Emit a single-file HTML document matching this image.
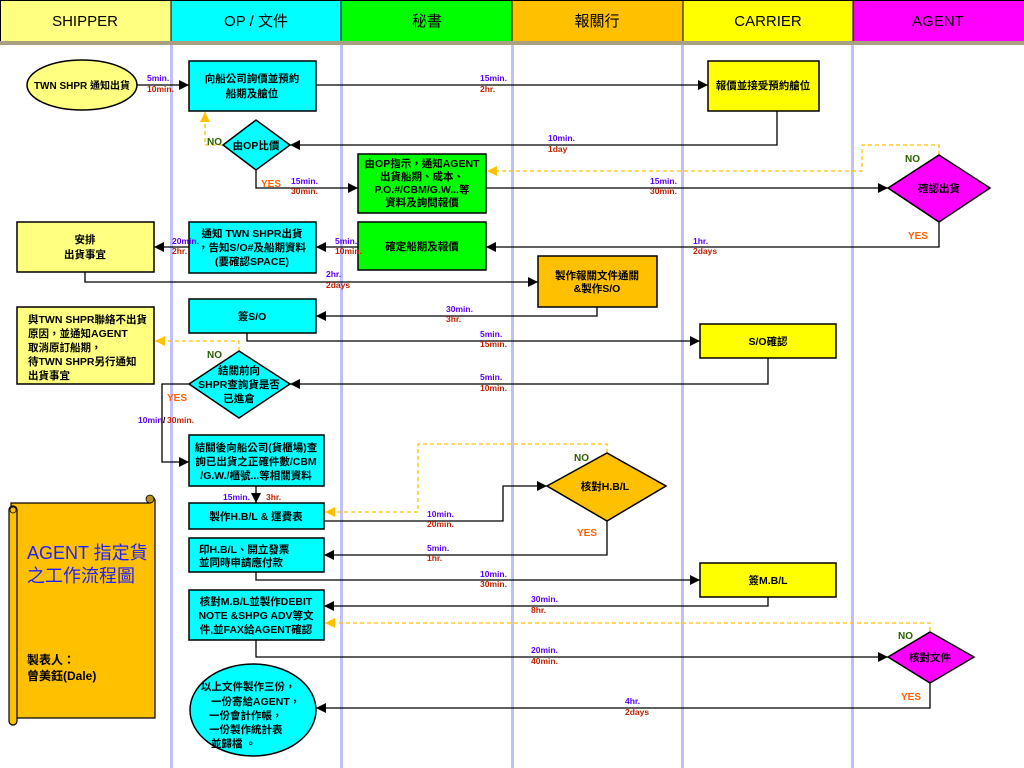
<!DOCTYPE html>
<html><head><meta charset="utf-8"><style>
html,body{margin:0;padding:0;background:#fff;}
svg{display:block;}
text{font-family:"Liberation Sans","Noto Sans CJK TC",sans-serif;}
.n{font-size:10.5px;font-weight:bold;fill:#000;text-anchor:middle;}
.nl{font-size:10.5px;font-weight:bold;fill:#000;}
.b{font-size:8.5px;font-weight:bold;fill:#5a00ff;}
.r{font-size:8.5px;font-weight:bold;fill:#c02000;}
.h{font-size:15px;fill:#000;text-anchor:middle;}
.no{font-size:10px;font-weight:bold;fill:#2a6000;}
.yes{font-size:10px;font-weight:bold;fill:#ff6000;}
.l{stroke:#000;stroke-width:1.3;fill:none;}
.d{stroke:#ffc000;stroke-width:1.3;fill:none;stroke-dasharray:4,3;}
.bx{stroke:#000;stroke-width:1.5;}
</style></head><body>
<svg width="1024" height="768" viewBox="0 0 1024 768" xmlns="http://www.w3.org/2000/svg">
<defs>
<marker id="a" markerWidth="10" markerHeight="10" refX="10" refY="5" orient="auto" markerUnits="userSpaceOnUse"><path d="M0,0 L10,5 L0,10 z" fill="#000"/></marker>
<marker id="o" markerWidth="10" markerHeight="10" refX="10" refY="5" orient="auto" markerUnits="userSpaceOnUse"><path d="M0,0 L10,5 L0,10 z" fill="#ffc000"/></marker>
</defs>
<rect x="0" y="0" width="171" height="41" fill="#ffff80"/>
<rect x="171" y="0" width="170" height="41" fill="#00ffff"/>
<rect x="341" y="0" width="171" height="41" fill="#00ff00"/>
<rect x="512" y="0" width="171" height="41" fill="#ffc000"/>
<rect x="683" y="0" width="170" height="41" fill="#ffff00"/>
<rect x="853" y="0" width="171" height="41" fill="#ff00ff"/>
<g stroke="#000" stroke-width="1"><line x1="171" y1="0" x2="171" y2="41"/><line x1="341" y1="0" x2="341" y2="41"/><line x1="512" y1="0" x2="512" y2="41"/><line x1="683" y1="0" x2="683" y2="41"/><line x1="853" y1="0" x2="853" y2="41"/><line x1="0.5" y1="0" x2="0.5" y2="41"/><line x1="0" y1="0.5" x2="1024" y2="0.5"/></g>
<rect x="0" y="41" width="1024" height="4" fill="#a8a080"/>
<text class="h" x="85" y="26">SHIPPER</text>
<text class="h" x="256" y="26">OP / 文件</text>
<text class="h" x="427" y="26">秘書</text>
<text class="h" x="597" y="26">報關行</text>
<text class="h" x="768" y="26">CARRIER</text>
<text class="h" x="938" y="26">AGENT</text>
<g fill="#c0c0ff"><rect x="170" y="45" width="3" height="723"/><rect x="340" y="45" width="3" height="723"/><rect x="511" y="45" width="3" height="723"/><rect x="681" y="45" width="3" height="723"/><rect x="851" y="45" width="3" height="723"/></g>

<path class="l" d="M137,85 H189" marker-end="url(#a)"/>
<path class="l" d="M316,85 H708" marker-end="url(#a)"/>
<path class="l" d="M777,111 V145 H290" marker-end="url(#a)"/>
<path class="d" d="M223,145 H205 V112" marker-end="url(#o)"/>
<path class="l" d="M256,170 V188 H358" marker-end="url(#a)"/>
<path class="l" d="M486,188 H888" marker-end="url(#a)"/>
<path class="d" d="M939,155 V145 H862 V171 H487" marker-end="url(#o)"/>
<path class="l" d="M939,222 V247 H486" marker-end="url(#a)"/>
<path class="l" d="M358,247 H316" marker-end="url(#a)"/>
<path class="l" d="M189,247 H154" marker-end="url(#a)"/>
<path class="l" d="M85,272 V282 H538" marker-end="url(#a)"/>
<path class="l" d="M597,307 V316 H316" marker-end="url(#a)"/>
<path class="l" d="M247,333 V341 H700" marker-end="url(#a)"/>
<path class="l" d="M768,358 V384 H290" marker-end="url(#a)"/>
<path class="d" d="M239,351 V341 H155" marker-end="url(#o)"/>
<path class="l" d="M189,384 H162 V462 H189" marker-end="url(#a)"/>
<path class="l" d="M256,486 V503" marker-end="url(#a)"/>
<path class="l" d="M324,521 H503 V486 H547" marker-end="url(#a)"/>
<path class="d" d="M607,453 V444 H418 V512 H325" marker-end="url(#o)"/>
<path class="l" d="M607,521 V555 H324" marker-end="url(#a)"/>
<path class="l" d="M256,572 V580 H700" marker-end="url(#a)"/>
<path class="l" d="M768,597 V606 H324" marker-end="url(#a)"/>
<path class="d" d="M930,631 V623 H325" marker-end="url(#o)"/>
<path class="l" d="M256,640 V657 H888" marker-end="url(#a)"/>
<path class="l" d="M930,683 V708 H316" marker-end="url(#a)"/>

<ellipse class="bx" cx="82" cy="85" rx="55" ry="25" fill="#ffff80"/>
<text class="n" x="82" y="89" style="font-size:10px">TWN SHPR 通知出貨</text>

<rect class="bx" x="189" y="61" width="127" height="50" fill="#00ffff"/>
<text class="n" x="252" y="82">向船公司詢價並預約</text><text class="n" x="252" y="97">船期及艙位</text>

<rect class="bx" x="708" y="61" width="111" height="50" fill="#ffff00"/>
<text class="n" x="763" y="89">報價並接受預約艙位</text>

<polygon class="bx" points="223,145 256,120 290,145 256,170" fill="#00ffff"/>
<text class="n" x="256" y="149">由OP比價</text>

<rect class="bx" x="358" y="154" width="128" height="59" fill="#00ff00"/>
<text class="n" x="422" y="167">由OP指示，通知AGENT</text>
<text class="n" x="422" y="180">出貨船期、成本、</text>
<text class="n" x="422" y="193">P.O.#/CBM/G.W...等</text>
<text class="n" x="422" y="206">資料及詢問報價</text>

<polygon class="bx" points="888,188 939,155 990,188 939,222" fill="#ff00ff"/>
<text class="n" x="939" y="192">確認出貨</text>

<rect class="bx" x="358" y="222" width="128" height="48" fill="#00ff00"/>
<text class="n" x="422" y="250">確定船期及報價</text>

<rect class="bx" x="189" y="222" width="127" height="51" fill="#00ffff"/>
<text class="n" x="252" y="237">通知 TWN SHPR出貨</text>
<text class="n" x="252" y="251">，告知S/O#及船期資料</text>
<text class="n" x="252" y="265">(要確認SPACE)</text>

<rect class="bx" x="17" y="222" width="137" height="50" fill="#ffff80"/>
<text class="n" x="85" y="243">安排</text><text class="n" x="85" y="258">出貨事宜</text>

<rect class="bx" x="538" y="256" width="119" height="51" fill="#ffc000"/>
<text class="n" x="597" y="279">製作報關文件通關</text><text class="n" x="597" y="292">&amp;製作S/O</text>

<rect class="bx" x="189" y="299" width="127" height="34" fill="#00ffff"/>
<text class="n" x="252" y="320">簽S/O</text>

<rect class="bx" x="700" y="324" width="136" height="34" fill="#ffff00"/>
<text class="n" x="768" y="345">S/O確認</text>

<rect class="bx" x="17" y="307" width="137" height="77" fill="#ffff80"/>
<text class="nl" x="28" y="323">與TWN SHPR聯絡不出貨</text>
<text class="nl" x="28" y="337">原因，並通知AGENT</text>
<text class="nl" x="28" y="351">取消原訂船期，</text>
<text class="nl" x="28" y="365">待TWN SHPR另行通知</text>
<text class="nl" x="28" y="379">出貨事宜</text>

<polygon class="bx" points="189,384 239,351 290,384 239,418" fill="#00ffff"/>
<text class="n" x="239" y="374">結關前向</text>
<text class="n" x="239" y="388">SHPR查詢貨是否</text>
<text class="n" x="239" y="402">已進倉</text>

<rect class="bx" x="189" y="435" width="135" height="51" fill="#00ffff"/>
<text class="n" x="256" y="451">結關後向船公司(貨櫃場)查</text>
<text class="n" x="256" y="465">詢已出貨之正確件數/CBM</text>
<text class="n" x="256" y="479">/G.W./櫃號...等相關資料</text>

<rect class="bx" x="189" y="503" width="135" height="26" fill="#00ffff"/>
<text class="n" x="256" y="520">製作H.B/L &amp; 運費表</text>

<polygon class="bx" points="547,486 607,453 666,486 607,521" fill="#ffc000"/>
<text class="n" x="605" y="490">核對H.B/L</text>

<rect class="bx" x="189" y="538" width="135" height="34" fill="#00ffff"/>
<text class="nl" x="199" y="553">印H.B/L、開立發票</text>
<text class="nl" x="199" y="566">並同時申請應付款</text>

<rect class="bx" x="700" y="563" width="136" height="34" fill="#ffff00"/>
<text class="n" x="768" y="584">簽M.B/L</text>

<rect class="bx" x="189" y="590" width="135" height="50" fill="#00ffff"/>
<text class="n" x="256" y="605">核對M.B/L並製作DEBIT</text>
<text class="n" x="256" y="619">NOTE &amp;SHPG ADV等文</text>
<text class="n" x="256" y="633">件,並FAX給AGENT確認</text>

<polygon class="bx" points="888,657 930,632 974,657 930,683" fill="#ff00ff"/>
<text class="n" x="930" y="661">核對文件</text>

<ellipse class="bx" cx="253" cy="710" rx="63" ry="46" fill="#00ffff"/>
<text class="nl" x="201" y="690">以上文件製作三份，</text>
<text class="nl" x="211" y="705">一份寄給AGENT，</text>
<text class="nl" x="209" y="719">一份會計作帳，</text>
<text class="nl" x="209" y="733">一份製作統計表</text>
<text class="nl" x="211" y="747">並歸檔 。</text>

<path d="M11,503 H150 V497 A4,4 0 0 1 155,500 V718 H16 Z" fill="#ffc000" stroke="#000" stroke-width="1.2"/>
<rect x="9" y="506" width="8" height="219" rx="4" fill="#ffc000" stroke="#000" stroke-width="1.2"/>
<circle cx="150" cy="499" r="4" fill="#b09020" stroke="#000" stroke-width="0.8"/>
<circle cx="13" cy="510" r="3" fill="#ffc000" stroke="#000" stroke-width="0.8"/>
<text x="27" y="559" style="font-size:18px;fill:#2020ff">AGENT 指定貨</text>
<text x="27" y="582" style="font-size:18px;fill:#2020ff">之工作流程圖</text>
<text x="27" y="664" style="font-size:12px;font-weight:bold">製表人：</text>
<text x="27" y="680" style="font-size:12px;font-weight:bold">曾美鈺(Dale)</text>

<text class="b" x="147" y="81">5min.</text><text class="r" x="147" y="92">10min.</text>
<text class="b" x="480" y="81">15min.</text><text class="r" x="480" y="92">2hr.</text>
<text class="b" x="548" y="141">10min.</text><text class="r" x="548" y="152">1day</text>
<text class="no" x="207" y="145">NO</text>
<text class="yes" x="261" y="187">YES</text>
<text class="b" x="291" y="184">15min.</text><text class="r" x="291" y="194">30min.</text>
<text class="b" x="650" y="184">15min.</text><text class="r" x="650" y="194">30min.</text>
<text class="no" x="905" y="162">NO</text>
<text class="yes" x="908" y="239">YES</text>
<text class="b" x="693" y="244">1hr.</text><text class="r" x="693" y="254">2days</text>
<text class="b" x="335" y="244">5min.</text><text class="r" x="335" y="254">10min.</text>
<text class="b" x="172" y="244">20min.</text><text class="r" x="172" y="254">2hr.</text>
<text class="b" x="326" y="277">2hr.</text><text class="r" x="326" y="288">2days</text>
<text class="b" x="446" y="312">30min.</text><text class="r" x="446" y="322">3hr.</text>
<text class="b" x="480" y="337">5min.</text><text class="r" x="480" y="347">15min.</text>
<text class="no" x="207" y="358">NO</text>
<text class="b" x="480" y="380">5min.</text><text class="r" x="480" y="391">10min.</text>
<text class="yes" x="167" y="401">YES</text>
<text class="b" x="138" y="423">10min.</text><text x="163" y="423" style="font-size:8.5px;font-weight:bold">/</text><text class="r" x="167" y="423">30min.</text>
<text class="b" x="223" y="500">15min.</text><text class="r" x="266" y="500">3hr.</text>
<text class="b" x="427" y="517">10min.</text><text class="r" x="427" y="527">20min.</text>
<text class="no" x="574" y="461">NO</text>
<text class="yes" x="577" y="536">YES</text>
<text class="b" x="427" y="551">5min.</text><text class="r" x="427" y="561">1hr.</text>
<text class="b" x="480" y="577">10min.</text><text class="r" x="480" y="587">30min.</text>
<text class="b" x="531" y="602">30min.</text><text class="r" x="531" y="613">8hr.</text>
<text class="no" x="898" y="639">NO</text>
<text class="b" x="531" y="653">20min.</text><text class="r" x="531" y="664">40min.</text>
<text class="yes" x="901" y="700">YES</text>
<text class="b" x="625" y="704">4hr.</text><text class="r" x="625" y="715">2days</text>
</svg>
</body></html>
